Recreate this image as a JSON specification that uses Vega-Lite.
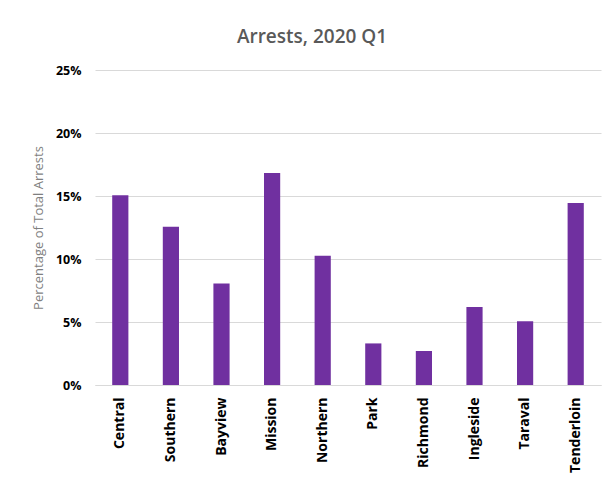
{
  "$schema": "https://vega.github.io/schema/vega-lite/v6.json",
  "autosize": {"type": "none"},
  "padding": {"left": 95, "top": 70, "right": 12, "bottom": 102},
  "width": 506,
  "height": 315,
  "background": "white",
  "title": {
    "text": "Arrests, 2020 Q1",
    "font": "Open Sans",
    "fontSize": 19,
    "fontWeight": 600,
    "color": "#595959",
    "offset": 17,
    "dx": -36,
    "anchor": "middle"
  },
  "data": {
    "values": [
      {"district": "Central", "pct": 0.1505},
      {"district": "Southern", "pct": 0.1255},
      {"district": "Bayview", "pct": 0.0805},
      {"district": "Mission", "pct": 0.1682},
      {"district": "Northern", "pct": 0.1025},
      {"district": "Park", "pct": 0.033},
      {"district": "Richmond", "pct": 0.027},
      {"district": "Ingleside", "pct": 0.062},
      {"district": "Taraval", "pct": 0.0505},
      {"district": "Tenderloin", "pct": 0.1445}
    ]
  },
  "mark": {"type": "bar", "color": "#7030A0"},
  "encoding": {
    "x": {
      "field": "district",
      "type": "nominal",
      "sort": null,
      "scale": {"paddingInner": 0.68, "paddingOuter": 0.34},
      "axis": {
        "title": null,
        "labelAngle": -90,
        "labelAlign": "right",
        "labelBaseline": "middle",
        "labelFont": "Open Sans",
        "labelFontSize": 14,
        "labelFontWeight": "bold",
        "labelColor": "#000000",
        "labelPadding": 12,
        "ticks": false,
        "domainColor": "#d9d9d9",
        "domainWidth": 1
      }
    },
    "y": {
      "field": "pct",
      "type": "quantitative",
      "scale": {"domain": [0, 0.25], "nice": false},
      "axis": {
        "title": "Percentage of Total Arrests",
        "titleFont": "Open Sans",
        "titleFontSize": 13,
        "titleFontWeight": "normal",
        "titleColor": "#7f7f7f",
        "titlePadding": 10,
        "format": ".0%",
        "values": [0, 0.05, 0.1, 0.15, 0.2, 0.25],
        "labelFont": "Open Sans",
        "labelFontSize": 12.5,
        "labelFontWeight": "bold",
        "labelColor": "#000000",
        "labelPadding": 14,
        "ticks": false,
        "domain": false,
        "grid": true,
        "gridColor": "#d9d9d9",
        "gridWidth": 1
      }
    }
  },
  "config": {"view": {"stroke": null}}
}
